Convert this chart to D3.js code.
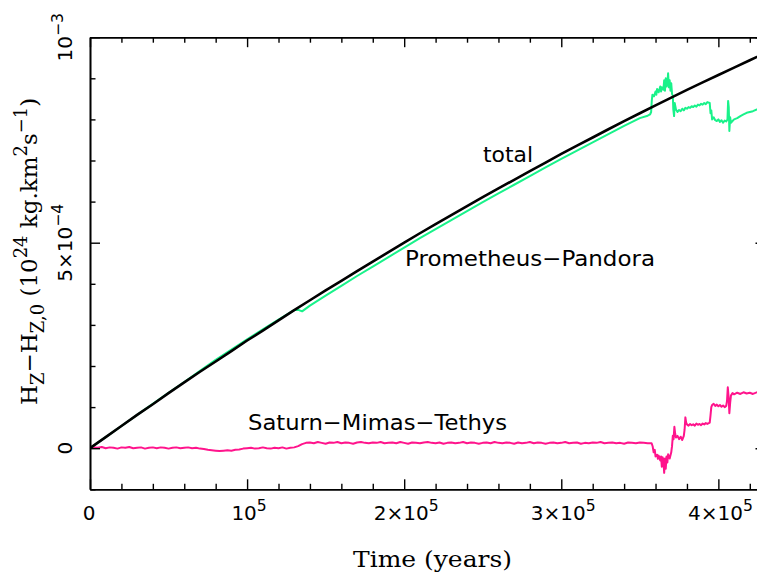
<!DOCTYPE html>
<html>
<head>
<meta charset="utf-8">
<script src="https://cdn.jsdelivr.net/npm/d3@7"></script>
<style>
  html, body { margin: 0; padding: 0; background: #fff; }
  svg { display: block; }
</style>
</head>
<body>
<svg id="chart" width="757" height="575"></svg>
<script>
// ---- Data (time in units of 1e5 years, H values in units of 1e-3) ----
const xTickValues = [0, 1, 2, 3, 4];
const xTickLabels = ["0", "10^{5}", "2×10^{5}", "3×10^{5}", "4×10^{5}"];
const yTickValues = [0, 0.5, 1.0];
const yTickLabels = ["0", "5×10^{−4}", "10^{−3}"];

const totalSeries = [
  [0.0,0.000],[0.1,0.027],[0.2,0.054],[0.3,0.081],[0.4,0.107],[0.5,0.134],[0.6,0.160],[0.7,0.186],
  [0.8,0.211],[0.9,0.236],[1.0,0.262],[1.1,0.286],[1.2,0.311],[1.3,0.336],[1.4,0.360],[1.5,0.384],
  [1.6,0.407],[1.7,0.431],[1.8,0.454],[1.9,0.477],[2.0,0.500],[2.1,0.523],[2.2,0.545],[2.3,0.567],
  [2.4,0.589],[2.5,0.611],[2.6,0.632],[2.7,0.653],[2.8,0.674],[2.9,0.695],[3.0,0.716],[3.1,0.736],
  [3.2,0.756],[3.3,0.776],[3.4,0.796],[3.5,0.815],[3.6,0.834],[3.7,0.853],[3.8,0.872],[3.9,0.890],
  [4.0,0.908],[4.1,0.926],[4.2,0.944],[4.3,0.962]
];

const promPandSeries = [
  [0.0,0.000],[0.1,0.027],[0.2,0.054],[0.3,0.081],[0.4,0.108],[0.5,0.135],[0.6,0.161],[0.7,0.188],
  [0.8,0.215],[0.9,0.240],[1.0,0.265],[1.1,0.289],[1.2,0.313],[1.3,0.336],[1.33,0.336],[1.35,0.333],
  [1.4,0.347],[1.5,0.371],[1.6,0.395],[1.7,0.419],[1.8,0.442],[1.9,0.465],[2.0,0.488],[2.1,0.511],
  [2.2,0.533],[2.3,0.555],[2.4,0.577],[2.5,0.599],[2.6,0.620],[2.7,0.641],[2.8,0.662],[2.9,0.683],
  [3.0,0.704],[3.1,0.724],[3.2,0.744],[3.3,0.764],[3.4,0.784],[3.5,0.803],[3.55,0.809],[3.565,0.812],
  [3.572,0.818],[3.576,0.845],[3.58,0.860],[3.59,0.856],[3.60,0.868],[3.605,0.860],[3.61,0.874],
  [3.62,0.866],[3.63,0.880],[3.635,0.868],[3.64,0.878],[3.65,0.872],[3.655,0.895],[3.66,0.870],
  [3.665,0.900],[3.67,0.880],[3.675,0.885],[3.68,0.912],[3.685,0.878],[3.69,0.895],[3.695,0.870],
  [3.70,0.888],[3.705,0.862],[3.71,0.858],[3.713,0.825],[3.718,0.808],[3.722,0.840],[3.73,0.824],
  [3.74,0.818],[3.75,0.823],[3.76,0.820],[3.77,0.826],[3.78,0.822],[3.79,0.828],[3.80,0.826],
  [3.81,0.830],[3.82,0.828],[3.83,0.832],[3.84,0.830],[3.85,0.834],[3.86,0.831],[3.87,0.836],
  [3.88,0.834],[3.89,0.838],[3.90,0.836],[3.91,0.840],[3.92,0.837],[3.93,0.842],[3.945,0.840],
  [3.95,0.815],[3.955,0.822],[3.96,0.800],[3.97,0.805],[3.98,0.798],[3.99,0.796],[4.00,0.800],
  [4.01,0.794],[4.02,0.798],[4.03,0.792],[4.04,0.797],[4.05,0.795],[4.058,0.800],[4.062,0.845],
  [4.066,0.830],[4.07,0.772],[4.075,0.805],[4.08,0.792],[4.09,0.796],[4.10,0.800],[4.12,0.803],
  [4.14,0.808],[4.16,0.812],[4.18,0.816],[4.20,0.818],[4.22,0.820],[4.245,0.824],[4.30,0.826]
];

// Saturn–Mimas–Tethys: regular samples (every 2.5e3 yr) up to 3.55e5 yr, then irregular samples
const smtEarlyValues = [
  0.000,0.002,0.001,0.003,0.000,0.002,0.001,-0.001,0.002,0.001,0.003,0.000,0.001,0.002,-0.001,
  0.001,0.002,0.000,0.002,0.001,-0.001,0.001,0.002,0.000,0.001,0.002,0.000,0.001,-0.001,
  -0.002,-0.004,-0.005,-0.006,-0.007,-0.006,-0.005,-0.006,-0.004,-0.003,
  -0.001,0.000,0.001,-0.001,0.000,0.002,0.000,-0.001,0.001,0.000,0.002,-0.001,0.001,0.002,
  0.005,0.010,0.013,
  0.014,0.012,0.015,0.013,0.011,0.014,0.013,0.015,0.012,0.014,
  0.013,0.011,0.014,0.015,0.013,0.012,0.014,0.013,0.015,0.012,
  0.013,0.014,0.012,0.015,0.013,0.011,0.014,0.013,0.012,0.014,
  0.015,0.013,0.012,0.014,0.011,0.013,0.014,0.012,0.013,0.015,
  0.012,0.014,0.013,0.011,0.013,0.014,0.012,0.015,0.013,0.012,
  0.014,0.013,0.011,0.014,0.012,0.013,0.015,0.012,0.014,0.013,
  0.011,0.013,0.014,0.012,0.013,0.015,0.012,0.013,0.014,0.011,
  0.013,0.012,0.014,0.013,0.015,0.012,0.013,0.014,0.012,0.013,
  0.011,0.014,0.013,0.012,0.014,0.013,0.012
];
const smtEarlyTimes = d3.range(0, 3.5501, 0.025);
const smtLateSeries = [
  [3.575,0.012],[3.582,0.004],[3.588,-0.010],[3.595,-0.004],[3.60,-0.020],[3.61,-0.016],
  [3.615,-0.026],[3.62,-0.018],[3.63,-0.030],[3.635,-0.020],[3.64,-0.045],[3.645,-0.022],
  [3.65,-0.028],[3.655,-0.060],[3.66,-0.025],[3.665,-0.050],[3.67,-0.020],[3.675,-0.035],
  [3.68,-0.015],[3.69,-0.025],[3.70,-0.010],[3.705,0.005],[3.71,0.030],[3.715,0.022],
  [3.72,0.052],[3.725,0.035],[3.73,0.026],[3.74,0.030],[3.75,0.022],[3.76,0.028],[3.77,0.020],
  [3.78,0.030],[3.785,0.045],[3.79,0.075],[3.795,0.062],[3.80,0.058],[3.81,0.055],[3.82,0.059],
  [3.83,0.056],[3.84,0.058],[3.85,0.055],[3.86,0.060],[3.87,0.057],[3.88,0.059],[3.89,0.056],
  [3.90,0.060],[3.91,0.058],[3.92,0.061],[3.93,0.059],[3.945,0.062],[3.95,0.080],[3.955,0.100],
  [3.96,0.105],[3.97,0.108],[3.98,0.103],[3.99,0.106],[4.00,0.102],[4.01,0.105],[4.02,0.101],
  [4.03,0.104],[4.04,0.100],[4.05,0.103],[4.055,0.115],[4.06,0.148],[4.065,0.125],[4.07,0.085],
  [4.075,0.110],[4.08,0.128],[4.09,0.134],[4.10,0.131],[4.12,0.135],[4.14,0.132],[4.16,0.136],
  [4.18,0.133],[4.20,0.135],[4.22,0.132],[4.245,0.136],[4.30,0.135]
];

const seriesNames = ["total", "Prometheus−Pandora", "Saturn−Mimas−Tethys"];
const seriesColors = ["#000000", "#19f28a", "#ff148c"];

// ---- Layout ----
const svg = d3.select("#chart");
const mLeft = 90, mRight = 765.5, mTop = 37.2, mBottom = 489.3;
const x = d3.scaleLinear().domain([0, 4.3]).range([mLeft, mRight]);
const y = d3.scaleLinear().domain([-0.1, 1.0]).range([mBottom, mTop]);

svg.append("rect").attr("width", 757).attr("height", 575).attr("fill", "#fff");

svg.append("defs").append("clipPath").attr("id", "clip")
  .append("rect").attr("x", mLeft).attr("y", mTop).attr("width", mRight - mLeft).attr("height", mBottom - mTop);

const smtSeries = smtEarlyTimes.map((t, i) => [t, smtEarlyValues[i]]).concat(smtLateSeries);

const line = d3.line().x(d => x(d[0])).y(d => y(d[1]));
const plot = svg.append("g").attr("clip-path", "url(#clip)");
plot.append("path").datum(smtSeries).attr("d", line).attr("fill", "none")
  .attr("stroke", seriesColors[2]).attr("stroke-width", 2).attr("stroke-linejoin", "round");
plot.append("path").datum(promPandSeries).attr("d", line).attr("fill", "none")
  .attr("stroke", seriesColors[1]).attr("stroke-width", 2).attr("stroke-linejoin", "round");
plot.append("path").datum(totalSeries).attr("d", line).attr("fill", "none")
  .attr("stroke", seriesColors[0]).attr("stroke-width", 2.6).attr("stroke-linejoin", "round");

// ---- Axes (ticks inward on all four sides) ----
const xMinor = d3.range(0, 4.31, 0.2).filter(v => Math.abs(v - Math.round(v)) > 1e-6);
const yMinor = d3.range(-0.1, 1.001, 0.1).filter(v => Math.abs(v*2 - Math.round(v*2)) > 1e-6);
function styleAxis(g) {
  g.selectAll("path.domain").attr("stroke", "#000").attr("stroke-width", 1.6);
  g.selectAll(".tick line").attr("stroke", "#000").attr("stroke-width", 1.4);
  g.selectAll(".tick text").remove();
}
const axes = [
  [() => d3.axisBottom(x), `translate(0,${mBottom})`, xTickValues, xMinor],
  [() => d3.axisTop(x), `translate(0,${mTop})`, xTickValues, xMinor],
  [() => d3.axisLeft(y), `translate(${mLeft},0)`, yTickValues, yMinor],
  [() => d3.axisRight(y), `translate(${mRight},0)`, yTickValues, yMinor]
];
axes.forEach(([mk, tr, major, minor]) => {
  svg.append("g").attr("transform", tr)
    .call(mk().tickValues(major).tickSizeInner(-10).tickSizeOuter(0).tickFormat(""))
    .call(styleAxis);
  svg.append("g").attr("transform", tr)
    .call(mk().tickValues(minor).tickSizeInner(-5.5).tickSizeOuter(0).tickFormat(""))
    .call(styleAxis);
});

// ---- Rich text helper (^{} superscript, _{} subscript) ----
function rich(sel, str, fs) {
  const parts = str.split(/(\^\{[^}]*\}|_\{[^}]*\})/).filter(p => p.length);
  let shift = 0;
  parts.forEach(p => {
    let t = p, target = 0, size = fs;
    if (p.startsWith("^{")) { t = p.slice(2, -1); target = -0.45 * fs; size = fs * 0.78; }
    else if (p.startsWith("_{")) { t = p.slice(2, -1); target = 0.32 * fs; size = fs * 0.78; }
    sel.append("tspan").attr("dy", target - shift).attr("font-size", size).text(t);
    shift = target;
  });
}

const sansFont = "'DejaVu Sans', sans-serif";
const serifFont = "'DejaVu Serif', serif";

xTickValues.forEach((v, i) => {
  const t = svg.append("text").attr("x", x(v) + (i === 0 ? -1 : 2)).attr("y", 519.5)
    .attr("text-anchor", "middle").attr("font-family", sansFont).attr("font-size", 20)
    .attr("fill", "#000");
  rich(t, xTickLabels[i], 20);
});
yTickValues.forEach((v, i) => {
  const t = svg.append("text")
    .attr("transform", `translate(72,${y(v)}) rotate(-90)`)
    .attr("text-anchor", "middle").attr("font-family", sansFont).attr("font-size", 20)
    .attr("fill", "#000");
  rich(t, yTickLabels[i], 20);
});

// Axis titles
svg.append("text").attr("x", 353).attr("y", 567).attr("font-family", serifFont)
  .attr("font-size", 22).attr("fill", "#000")
  .attr("textLength", 159).attr("lengthAdjust", "spacingAndGlyphs")
  .text("Time (years)");

const yl = svg.append("text").attr("transform", "translate(37,405) rotate(-90)")
  .attr("text-anchor", "start").attr("font-family", serifFont).attr("font-size", 23).attr("fill", "#000");
rich(yl, "H_{Z}−H_{Z,0}  (10^{24} kg.km^{2}s^{−1})", 23);

// Series annotations
const annot = [[483, 161.7, 50], [405, 266, 250], [248, 430, 259]];
seriesNames.forEach((name, i) => {
  svg.append("text").attr("x", annot[i][0]).attr("y", annot[i][1])
    .attr("font-family", sansFont).attr("font-size", 21).attr("fill", "#000")
    .attr("textLength", annot[i][2]).attr("lengthAdjust", "spacingAndGlyphs")
    .text(name);
});
</script>
</body>
</html>
